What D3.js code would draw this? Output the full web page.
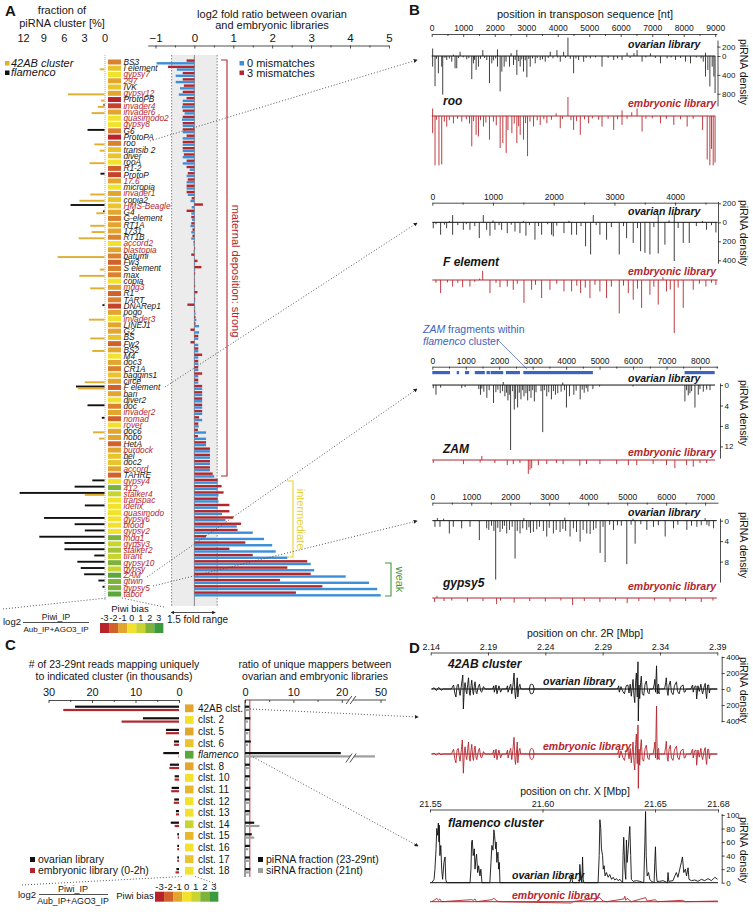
<!DOCTYPE html>
<html><head><meta charset="utf-8">
<script src="https://cdn.jsdelivr.net/npm/d3@7/dist/d3.min.js"></script>
<style>html,body{margin:0;padding:0;background:#fff;}svg{display:block;}</style>
</head><body>
<svg id="fig" width="753" height="912"></svg>
<script>
// ---------------- DATA ----------------
const teNames = ["BS3","I element","gypsy7","297","IVK","gypsy12","ProtoPB","invader4","invader6","quasimodo2","gypsy8","G6","ProtoPA","roo","transib 2","diver","rooA","R1-2","ProtoP","17.6","micropia","invader1","copia2","HMS-Beagle","G4","G-element","RT1A","1731","RT1B","accord2","blastopia","batumi","Fw3","S element","max","copia","mdg3","R1","TART","DNARep1","pogo","invader3","LINEJ1","G2","BS","Fw2","BS2","M4","doc3","CR1A","baggins1","circe","F element","bari","diver2","doc","invader2","nomad","rover","doc6","hobo","HetA","burdock","bel","doc2","accord","TAHRE","gypsy4","412","stalker4","transpac","idefix","quasimodo","gypsy6","blood","gypsy2","mdg1","gypsy3","stalker2","tirant","gypsy10","gypsy","ZAM","gtwin","gypsy5","tabor"];
const teRedLabel = [0,0,1,1,0,1,0,1,1,1, 1,0,0,0,0,0,0,0,0,1, 0,1,0,1,0,0,0,0,0,1, 1,0,0,0,0,0,1,0,0,0, 0,1,0,0,0,0,0,0,0,0, 0,0,0,0,0,0,1,1,1,0, 0,0,1,0,0,1,0,1,1,1, 1,1,1,1,1,1,1,1,1,1, 1,1,1,1,1,1];
const tePiwiBias = [-1.5,-0.5,0,-1,-0.5,-1,-3,-2.5,-1,0, 0,-1.5,-3,-1.5,-0.5,-0.5,0,-2,-2.5,-1, 0,-1,-0.5,-0.5,-1,-1.5,-1,-1,-1.5,0, -1,-1.5,-2,-1.5,-1.5,0,-1,-2,-1.5,-2.5, -1,0,-1,-1,-0.5,-2,-1,0,-1,-1.5, -0.5,-1,-2,-1,0,-1.5,-1,-2,0,-1, -1,-2,-1,-0.5,-0.5,-1,-2,0,2,1, 0,0,0,0,0,0,2,1,1.5,1, 2,1,2.5,2,2,2.5];
const frac42AB = [0,0.7,0,0,0,5.4,0.5,1.0,1.9,0, 0,0,0,1.5,0.7,0,2.2,0,0,0, 0,2.1,3.7,0,1.2,0,2.1,1.9,3.8,0, 0,6.9,0,0.7,3.7,0,2.1,0,0,0, 0,2.3,0,0,2.1,0,1.8,0,0,0, 0,2.9,3.9,0,0,0,0,0,0,1.7, 0.8,0,0,0,0,0,0,0,0,2.9, 0,0,0,0,0,0,0,0,0,0, 0,0,0,0,0,0];
const fracFlam = [0,0,0,0,0,0,0,0.15,0,0, 0,2.5,0,0,0,0,0,0,0.6,0, 0,0,0,5.0,0.2,0,0,0,0,0, 0,0,0,0,0,0,0,0,0,0.3, 0,0,0,0,0,0,0,0,0,0, 0,0,4.2,0,0,2.5,0,0.4,0,0, 0,0,0,0,0,0,0,1.8,4.4,12.5, 0,2.9,0,8.9,4.4,2.9,9.6,5.9,5.9,1.5, 4.0,3.5,3.0,0.9,0.3,0];
const log2Mm3 = [-0.2,-0.68,-0.3,-0.3,-0.27,-0.3,-0.2,-0.3,-0.3,-0.3, -0.3,-0.3,-0.2,-0.3,-0.3,-0.27,-0.2,-0.2,-0.17,-0.17, -0.2,-0.2,-0.07,0.22,-0.2,-0.08,-0.08,-0.05,-0.05,-0.02, 0.02,-0.08,0.08,0.18,0.02,0.01,0.02,0.08,0.02,-0.18, 0.02,0.03,0.03,-0.1,0.1,-0.1,0.1,0.2,0.1,0.1, 0.2,0.1,0.2,0.2,0.2,0.2,0.2,0.12,0.1,0.09, 0.09,0.3,0.4,0.4,0.4,0.4,0.47,0.6,0.7,0.75, 0.6,0.9,0.9,1.0,1.2,1.11,0.3,1.31,0.9,1.5, 2.9,2.39,2.99,2.2,3.29,2.61];
const log2Mm0 = [-0.97,-0.45,-0.48,-0.48,-0.37,-0.4,-0.3,-0.32,-0.25,-0.32, -0.3,-0.3,-0.3,-0.3,-0.3,-0.3,-0.3,-0.12,-0.2,-0.2, -0.2,-0.17,-0.1,-0.07,-0.08,-0.06,-0.1,-0.08,-0.08,-0.02, -0.02,0.01,0.02,0.02,0.01,0.02,0.01,0.02,0.02,0.02, 0.03,0.05,0.12,0.12,0.1,0.1,0.1,0.1,0.1,0.1, 0.1,0.1,0.2,0.2,0.2,0.2,0.2,0.2,0.11,0.3, 0.3,0.3,0.4,0.4,0.4,0.4,0.51,0.6,0.6,0.62, 0.62,0.6,0.71,0.8,1.09,1.5,1.79,2.0,2.09,2.39, 2.99,3.08,3.89,4.49,4.7,4.79];
const fracTicks = [0,3,6,9,12];
const log2Ticks = [-1,0,1,2,3,4,5];
const piwiLegend = [-3,-2,-1,0,1,2,3];

// panel B: piRNA densities [position nt, density]; + sense (up), - antisense (down)
const rooOvarian = [[30,-225],[30,160],[106,-640],[150,-60],[212,-365],[318,-225],[350,-820],[420,-40],[477,-85],[560,-50],[636,-120],[690,30],[742,-260],[795,-260],[850,-40],[901,90],[1000,-30],[1113,-70],[1180,-45],[1272,-490],[1325,-155],[1360,-80],[1410,-295],[1484,-225],[1550,-60],[1622,125],[1680,-40],[1749,-85],[1834,-575],[1908,-155],[1960,-90],[2030,-50],[2088,140],[2088,-225],[2173,-750],[2226,-330],[2300,-225],[2360,-120],[2470,-225],[2520,60],[2597,-190],[2650,-80],[2703,130],[2703,-400],[2760,-110],[2809,-225],[2860,-70],[2915,-330],[2970,-90],[3021,-450],[3080,-60],[3127,-225],[3200,-50],[3286,-155],[3350,-40],[3445,-85],[3520,-70],[3604,-120],[3700,-40],[3763,90],[3850,-50],[3975,125],[4000,-30],[4081,-120],[4187,90],[4250,-40],[4325,390],[4400,-60],[4505,-365],[4580,-50],[4664,-85],[4823,-120],[4900,-40],[5035,-50],[5200,-30],[5406,-225],[5600,-40],[5777,-85],[5900,-50],[6042,-85],[6201,70],[6300,-40],[6420,60],[6519,125],[6678,-120],[6800,-30],[6943,55],[7100,-40],[7261,-155],[7473,-50],[7600,-30],[7738,-85],[7900,-40],[8056,-120],[8215,-155],[8400,-30],[8550,-50],[8620,-120],[8692,70],[8692,-435],[8766,-295],[8830,-645],[8904,-225],[8957,-435],[8995,-785]];
const rooEmbryonic = [[30,-365],[30,160],[106,-1050],[150,-80],[230,-1050],[318,-1030],[400,-120],[477,-225],[560,-90],[690,-155],[820,-60],[954,-120],[1100,-70],[1200,-160],[1272,-645],[1330,-110],[1410,-400],[1484,-435],[1550,-90],[1643,-225],[1720,-140],[1834,-505],[1960,-120],[2050,-200],[2173,-680],[2258,-575],[2364,-785],[2420,-300],[2545,-365],[2620,-160],[2703,-575],[2760,-220],[2809,-400],[2915,-505],[2980,-150],[3042,-855],[3120,-120],[3233,-225],[3350,-90],[3445,-190],[3560,-70],[3657,-155],[3800,-80],[3950,60],[4081,-260],[4150,-60],[4325,405],[4420,-90],[4505,-295],[4600,-110],[4717,-400],[4850,-70],[4982,-155],[5100,-50],[5300,-80],[5406,-225],[5600,-60],[5777,-295],[5900,-70],[6042,120],[6042,-190],[6200,-60],[6350,80],[6519,160],[6678,-330],[6800,-60],[7000,-50],[7261,-155],[7450,-60],[7685,-190],[7900,-70],[8109,-225],[8300,-60],[8600,-300],[8745,-925],[8830,-1050],[8880,-700],[8936,-1050],[8995,-990]];
const fOvarian = [[16,-62],[60,-20],[137,-131],[200,-25],[236,-62],[280,15],[335,-131],[335,76],[420,-30],[511,-79],[560,-20],[620,-79],[700,-40],[774,-166],[840,76],[895,-79],[950,-141],[1000,20],[1032,-79],[1100,-30],[1142,-79],[1235,-114],[1300,-25],[1362,-97],[1444,-114],[1500,15],[1543,-141],[1600,-30],[1691,-183],[1750,-40],[1801,-131],[1900,-20],[1965,-131],[1993,-148],[2050,-35],[2169,-114],[2250,15],[2295,-131],[2377,-131],[2450,-40],[2525,-252],[2608,-338],[2652,76],[2700,-30],[2761,-131],[2871,-183],[2950,-50],[3080,-338],[3150,-40],[3201,-166],[3310,-217],[3380,-60],[3431,-304],[3503,-321],[3585,-338],[3650,-50],[3722,-328],[3722,76],[3832,-235],[3900,20],[3986,-407],[3986,93],[4050,-60],[4134,-217],[4233,-217],[4350,-40],[4450,15],[4518,-79],[4600,-30],[4672,-107]];
const fEmbryonic = [[60,-30],[137,-138],[250,-25],[335,-69],[420,-30],[500,-76],[620,-69],[700,-20],[780,15],[830,97],[950,-138],[1050,-30],[1115,-76],[1235,-69],[1334,-103],[1400,-40],[1510,-241],[1636,-103],[1700,-50],[1801,-190],[1938,-103],[2050,-40],[2169,-121],[2295,-121],[2380,-60],[2443,-138],[2520,-80],[2597,-190],[2680,-50],[2761,-121],[2871,-190],[2950,-70],[3080,-352],[3150,-60],[3229,-138],[3310,-207],[3380,-90],[3448,-293],[3585,-155],[3650,-70],[3722,-259],[3800,30],[3859,-121],[3920,-100],[3986,-559],[4050,-80],[4134,-293],[4299,-103],[4400,-40],[4507,-69],[4600,-30],[4672,-52]];
const zamFragments = [[0,530],[730,800],[975,1100],[1270,1570],[1620,1720],[1740,2120],[2200,2620],[2720,4800],[7540,8440]];
const zamOvarian = [[30,-0.6],[110,-1.9],[250,-0.5],[880,-0.6],[980,-0.4],[1390,-0.8],[1440,-1.9],[1480,-0.7],[1540,-1.3],[1630,-2.5],[1700,-1.0],[1830,-3.5],[1900,-1.4],[1960,-0.9],[2030,-1.6],[2100,-1.2],[2120,0.6],[2170,-2.2],[2220,-1.5],[2260,-3.0],[2300,-1.9],[2340,-12.7],[2400,-1.2],[2450,-4.8],[2490,-2.7],[2550,-4.4],[2600,-1.5],[2650,-2.8],[2700,-1.0],[2740,-2.2],[2800,-1.6],[2850,-3.0],[2900,-1.2],[2950,-2.5],[3000,-1.0],[3050,-3.2],[3100,-1.4],[3250,-1.2],[3300,-9.2],[3350,-1.0],[3420,-2.2],[3480,-1.4],[3560,-2.8],[3620,-1.2],[3680,-1.9],[3750,-1.6],[3850,-1.3],[3900,0.5],[3950,-1.0],[4010,-4.4],[4100,-2.2],[4230,-1.9],[4300,-1.1],[4420,-2.8],[4480,-0.9],[4540,-1.5],[4600,-0.6],[4650,-1.3],[4800,-0.8],[5000,-0.3],[6000,-0.3],[7550,-3.2],[7600,-1.0],[7650,-2.0],[7700,-1.6],[7750,-1.2],[7850,-4.4],[7950,-1.9],[8000,-0.8],[8100,-1.3],[8200,-0.9],[8300,-1.0]];
const zamEmbryonic = [[30,-0.6],[930,-0.8],[1430,-0.5],[1480,0.8],[1870,-0.6],[2240,-1.0],[2420,-0.8],[2620,-0.6],[2870,-2.7],[2920,-1.9],[2970,-1.6],[3170,-1.0],[3420,-0.8],[3710,-0.6],[3910,-0.8],[4410,-1.1],[4610,-0.8],[5010,-0.8],[5510,-0.8],[5860,-1.0],[6110,-1.0],[6600,-0.8],[7000,-1.0],[7250,-1.6],[7600,-1.0],[7800,-1.3],[8000,-0.6],[8200,-0.6]];
const gypsy5Ovarian = [[68,-1.2],[130,0.5],[197,-1.2],[290,0.4],[437,-2.5],[539,-1.2],[753,-1.5],[967,-1.2],[1207,-3.8],[1395,-1.5],[1450,-1.8],[1520,-1.0],[1580,-2.0],[1626,-11.5],[1680,-1.4],[1738,-2.2],[1800,-1.6],[1850,-1.0],[1909,-2.5],[1980,-1.8],[2050,-1.2],[2123,-7.4],[2180,-2.0],[2251,-2.5],[2320,-1.5],[2350,0.5],[2422,-1.8],[2480,-1.3],[2520,-2.4],[2594,-2.2],[2680,-1.7],[2750,-1.2],[2850,-2.0],[2936,-3.1],[3000,-1.4],[3107,-2.5],[3180,-1.8],[3278,-2.2],[3350,-1.6],[3400,0.6],[3420,-2.0],[3535,-3.1],[3620,-1.5],[3700,-2.2],[3792,-4.1],[3870,-1.8],[3963,-2.5],[4050,-2.6],[4134,-1.8],[4200,-1.5],[4306,-6.3],[4380,-1.2],[4434,-8.1],[4550,-0.8],[4648,-1.8],[4750,-0.9],[4850,-1.0],[4990,-8.5],[5100,-0.8],[5150,0.4],[5204,-4.5],[5350,-0.7],[5504,-1.8],[5675,-1.2],[5800,-0.9],[5975,-3.1],[6189,-1.5],[6300,-0.8],[6531,-1.8],[6650,-1.0],[6788,-1.2],[6900,-0.9],[7000,0.5],[7045,-0.8],[7100,-1.1],[7216,-1.5]];
const gypsy5Embryonic = [[60,-0.8],[120,0.4],[300,-0.6],[500,-0.5],[900,-0.7],[1300,-0.6],[1650,-1.2],[1750,-0.5],[2100,-0.9],[2500,-0.6],[2900,-0.7],[3300,-0.5],[3600,-1.4],[3900,-0.6],[4300,-0.8],[4700,-0.5],[5000,-1.0],[5300,-0.6],[5700,-0.5],[6100,-0.7],[6500,-0.6],[6900,-0.8],[7200,-0.5]];

// panel C
const clusterNames = ["42AB clst.","clst. 2","clst. 5","clst. 6","flamenco","clst. 8","clst. 10","clst. 11","clst. 12","clst. 13","clst. 14","clst. 15","clst. 16","clst. 17","clst. 18"];
const clusterBias = [-1,0,-1,-0.5,2.5,-1,0,-0.7,0,0,1,-0.7,0,-0.5,0];
const readsOvarian = [23.9,8.3,3.0,1.15,3.6,2.1,1.0,1.7,1.1,0.7,1.9,0.4,0.4,0.4,0.6];
const readsEmbryonic = [26.6,13.2,3.0,1.15,0.1,2.2,1.0,1.8,1.2,0.7,1.0,0.3,0.4,0.4,0.8];
const ratioPiRNA = [0.9,1.1,1.0,1.2,19.8,1.0,1.0,1.1,1.0,1.0,1.9,1.4,1.0,1.0,1.1];
const ratioSiRNA = [0.8,0.6,0.7,0.6,49,0.8,0.6,0.9,0.8,0.8,3.0,1.9,0.7,0.8,0.8];
const readTicks = [0,10,20,30];
const ratioTicks = [0,10,20,50];

// panel D: [position kb, density]
const ab42Ticks = [2140,2190,2240,2290,2340,2390];
const flamTicks = [21550,21600,21650,21678];
const ab42Ovarian = [[2141,0],[2143,15],[2145,-20],[2147,20],[2149,-15],[2151,0],[2158,0],[2160,50],[2161,-50],[2162,-100],[2163,40],[2164,60],[2165,-30],[2165.6,-80],[2166.8,50],[2168,175],[2168.5,-250],[2169.4,30],[2170,80],[2171,-40],[2171.5,-60],[2172.3,60],[2173,140],[2173.8,-50],[2174.4,-80],[2175.2,40],[2175.8,110],[2176.7,-30],[2177.3,-70],[2178.1,50],[2178.7,90],[2179.6,-40],[2180.2,-60],[2181.6,30],[2182.5,60],[2183.7,-30],[2184.5,-40],[2186,30],[2187.4,0],[2194,0],[2195,40],[2195.5,-40],[2197,50],[2197.8,-60],[2199.5,40],[2201,-40],[2202,0],[2206,0],[2207,40],[2207.5,-40],[2209,30],[2209.8,60],[2210.7,-60],[2211.8,50],[2212.7,200],[2213.5,-60],[2214,-120],[2215,50],[2215.5,140],[2216,-100],[2217,30],[2217.8,60],[2218.5,0],[2226,0],[2227,55],[2228.2,60],[2229.4,50],[2230.2,0],[2229.4,-50],[2228.2,-60],[2227,-55],[2226,0],[2231,0],[2241,0],[2241.3,8],[2241.6,0],[2252.5,0],[2252.8,-8],[2253.1,0],[2272.5,0],[2272.8,6],[2273.1,0],[2303,0],[2304,40],[2304.5,-40],[2306,30],[2307.5,-30],[2309,-60],[2310.5,40],[2312,50],[2313,-50],[2314,60],[2315,-90],[2316.5,120],[2317.3,-80],[2318,-170],[2318.8,100],[2319.4,200],[2320.2,-100],[2320.8,340],[2321.1,-400],[2321.7,50],[2322.3,-120],[2323.1,80],[2323.7,160],[2324.6,-60],[2325.8,-80],[2327,60],[2328.1,100],[2329.3,-40],[2330.5,-60],[2331,0],[2334,0],[2335,60],[2335.5,120],[2336.1,-40],[2337,290],[2337.6,-60],[2338.2,50],[2338.8,60],[2339.4,-60],[2338.8,-50],[2337.9,0],[2340.5,0],[2344,0],[2345,80],[2345.5,140],[2346.4,-40],[2347,-80],[2347.9,50],[2349,100],[2350,-40],[2351.4,-70],[2352.6,40],[2354.4,90],[2355.3,-30],[2356.7,-60],[2358.2,30],[2360.2,50],[2361.1,-40],[2361.7,-40],[2363,0],[2367,0],[2368,40],[2368.5,50],[2369,-40],[2370.2,30],[2371.4,40],[2372,-125],[2373.1,40],[2374.3,-30],[2375.7,60],[2376.6,-30],[2377.2,-60],[2378.7,40],[2379.5,70],[2380.1,-50],[2380.7,-120],[2381.6,50],[2382.5,50],[2383.1,-50],[2383.7,0],[2390,0]];
const ab42Embryonic = [[2141,0],[2143,10],[2145,-15],[2147,15],[2149,-10],[2151,0],[2158,0],[2160,60],[2161,-60],[2162,-110],[2163,50],[2164,70],[2165,-40],[2165.6,-90],[2166.8,60],[2167.6,175],[2168.5,-240],[2169.4,40],[2170,90],[2171,-50],[2171.5,-70],[2172.3,70],[2173,150],[2173.8,-60],[2174.4,-90],[2175.2,50],[2175.8,120],[2176.7,-40],[2177.3,-80],[2178.1,60],[2178.7,100],[2179.6,-50],[2180.2,-70],[2181.6,40],[2182.5,70],[2183.7,-40],[2184.5,-50],[2186,30],[2187.4,0],[2194,0],[2195,50],[2195.5,-50],[2197,60],[2197.8,-70],[2199.5,50],[2201,-50],[2202,0],[2206,0],[2207,50],[2207.5,-50],[2209,40],[2209.8,70],[2210.7,-70],[2211.8,60],[2212.7,208],[2213.5,-70],[2214,-130],[2215,60],[2215.5,150],[2216,-110],[2217,40],[2217.8,70],[2218.5,0],[2226,0],[2227,60],[2228.2,70],[2229.4,55],[2230.2,0],[2229.4,-55],[2228.2,-70],[2227,-60],[2226,0],[2231,0],[2303,0],[2304,50],[2304.5,-50],[2306,40],[2307.5,-40],[2309,-80],[2310.5,50],[2312,60],[2313,-60],[2314,70],[2315,-110],[2316.5,150],[2317.3,-100],[2318,-200],[2318.8,120],[2319.4,250],[2320.2,-120],[2320.8,363],[2321.1,-430],[2321.7,60],[2322.3,-140],[2323.1,90],[2323.7,180],[2324.6,-70],[2325.8,-90],[2327,70],[2328.1,110],[2329.3,-50],[2330.5,-70],[2331,0],[2334,0],[2335,80],[2335.5,150],[2336.1,-50],[2337,600],[2337.6,-70],[2338.2,60],[2338.8,70],[2339.4,-70],[2338.8,-60],[2337.9,0],[2340.5,0],[2344,0],[2345,90],[2345.5,160],[2346.4,-50],[2347,-90],[2347.9,60],[2349,110],[2350,-50],[2351.4,-80],[2352.6,50],[2354.4,100],[2355.3,-40],[2356.7,-70],[2358.2,40],[2360.2,60],[2361.1,-50],[2361.7,-50],[2363,0],[2367,0],[2368,50],[2368.5,60],[2369,-50],[2370.2,40],[2371.4,50],[2372,-140],[2373.1,50],[2374.3,-40],[2375.7,70],[2376.6,-40],[2377.2,-70],[2378.7,50],[2379.5,80],[2380.1,-60],[2380.7,-130],[2381.6,60],[2382.5,60],[2383.1,-60],[2383.7,0],[2390,0]];
const flamOvarian = [[21550.8,0],[21551.8,5],[21552.2,20],[21552.7,50],[21553.0,80],[21553.4,70],[21553.7,88],[21554.0,60],[21554.1,85],[21554.4,40],[21554.8,55],[21555.2,20],[21555.6,5],[21556.2,30],[21556.7,38],[21557.0,5],[21557.4,0],[21567.8,0],[21568.2,20],[21568.5,60],[21568.8,63],[21569.2,40],[21569.7,50],[21570.0,20],[21570.4,35],[21570.7,42],[21571.2,15],[21571.6,25],[21572.2,10],[21572.6,20],[21573.1,0],[21576.6,0],[21577.1,30],[21577.5,55],[21578.0,48],[21578.4,78],[21578.7,70],[21579.2,50],[21579.4,60],[21579.7,30],[21580.2,45],[21580.5,20],[21580.8,30],[21581.1,0],[21612.2,0],[21612.9,10],[21613.4,0],[21616.3,0],[21616.6,27],[21617.0,10],[21617.5,0],[21617.8,38],[21618.1,5],[21618.4,0],[21624.7,0],[21625.2,40],[21625.5,93],[21625.9,80],[21626.2,50],[21626.7,40],[21627.0,20],[21627.4,25],[21627.8,10],[21628.4,15],[21629.2,8],[21629.9,12],[21630.7,5],[21631.4,8],[21632.1,4],[21632.9,6],[21633.6,3],[21634.4,5],[21635.1,2],[21635.6,0],[21635.8,40],[21636.1,67],[21636.6,20],[21637.0,5],[21637.3,63],[21637.6,30],[21638.1,50],[21638.5,70],[21638.8,83],[21639.2,40],[21639.5,5],[21640.3,2],[21641.8,3],[21643.2,2],[21645.0,0],[21645.5,60],[21645.8,105],[21646.1,40],[21646.5,10],[21647.1,15],[21647.7,5],[21648.4,2],[21649.6,0],[21649.9,30],[21650.2,53],[21650.5,20],[21650.9,2],[21652.1,2],[21653.6,3],[21655.5,0],[21655.8,15],[21656.1,2],[21658.0,3],[21658.8,10],[21659.5,15],[21660.2,8],[21661.0,20],[21661.7,30],[21662.2,38],[21662.8,15],[21663.5,20],[21664.0,10],[21664.7,22],[21665.1,5],[21666.2,3],[21667.7,4],[21669.1,2],[21670.6,5],[21672.1,3],[21673.6,6],[21675.1,3],[21676.6,8],[21677.8,5]];
const flamEmbryonic = [[21550.8,0],[21552.2,3],[21553.0,5],[21553.7,2],[21554.4,4],[21555.2,0],[21568.5,3],[21569.2,2],[21570.0,4],[21570.7,0],[21577.5,3],[21578.4,5],[21579.4,2],[21580.5,0],[21612.9,-2],[21613.4,0],[21625.5,6],[21626.2,3],[21627.0,1],[21628.4,0],[21636.1,4],[21636.6,8],[21637.0,2],[21637.6,5],[21638.8,2],[21639.5,0],[21645.8,6],[21646.5,1],[21650.2,3],[21650.9,0],[21662.2,2],[21663.5,0],[21677.8,1]];

// ---------------- DRAW ----------------
const F = '"Liberation Sans", Arial, Helvetica, sans-serif';
const RED = "#b3262c", BLUE = "#3b8fd8", GOLD = "#e0ae33", INK = "#151515";
const piwiColors = ["#b8222b","#d1612a","#e2a52e","#f2e22d","#c8d531","#7db33a","#3a9a3d"];
const biasColor = d3.scaleLinear().domain(piwiLegend).range(piwiColors).clamp(true);
const svg = d3.select("#fig");
svg.append("rect").attr("width",753).attr("height",912).attr("fill","#fff");
const defs = svg.append("defs");
defs.append("marker").attr("id","arr").attr("viewBox","0 0 6 6").attr("refX",5).attr("refY",3)
  .attr("markerWidth",4.5).attr("markerHeight",4.5).attr("orient","auto")
  .append("path").attr("d","M0,0L6,3L0,6Z").attr("fill","#222");
defs.append("marker").attr("id","arrS").attr("viewBox","0 0 6 6").attr("refX",1).attr("refY",3)
  .attr("markerWidth",4.5).attr("markerHeight",4.5).attr("orient","auto-start-reverse")
  .append("path").attr("d","M0,0L6,3L0,6Z").attr("fill","#222");

function T(g,x,y,s,o={}){
  const t=g.append("text").attr("x",x).attr("y",y).text(s).attr("font-family",F)
    .attr("font-size",o.size||10).attr("fill",o.fill||INK);
  if(o.anchor) t.attr("text-anchor",o.anchor);
  if(o.weight) t.attr("font-weight",o.weight);
  if(o.style) t.attr("font-style",o.style);
  if(o.rotate!=null) t.attr("transform",`rotate(${o.rotate},${x},${y})`);
  return t;
}
function styleAxis(g,size){
  g.selectAll("path.domain").attr("stroke","#222").attr("stroke-width",0.8);
  g.selectAll(".tick line").attr("stroke","#222").attr("stroke-width",0.8);
  g.selectAll(".tick text").attr("font-family",F).attr("font-size",size).attr("fill",INK);
}
function topAxis(g,scale,y,ticks,fmt,size,minor,labelUp){
  const a=g.append("g").attr("transform",`translate(0,${y})`)
    .call(d3.axisBottom(scale).tickValues(ticks).tickFormat(fmt).tickSize(3).tickSizeOuter(0));
  a.selectAll(".tick text").attr("y",-(labelUp||3)).attr("dy","0");
  styleAxis(a,size);
  if(minor){
    const m=g.append("g").attr("transform",`translate(0,${y})`)
      .call(d3.axisBottom(scale).tickValues(minor).tickFormat("").tickSize(2).tickSizeOuter(0));
    m.select("path.domain").remove(); styleAxis(m,size);
  }
  return a;
}
function dotted(g,x1,y1,x2,y2,arrow){
  const l=g.append("line").attr("x1",x1).attr("y1",y1).attr("x2",x2).attr("y2",y2)
    .attr("stroke","#444").attr("stroke-width",0.9).attr("stroke-dasharray","1,2");
  if(arrow) l.attr("marker-end","url(#arr)");
}
function spikes(g,data,x,y,color){
  g.append("g").selectAll("line").data(data).join("line")
    .attr("x1",d=>x(d[0])).attr("x2",d=>x(d[0])).attr("y1",y(0)).attr("y2",d=>y(d[1]))
    .attr("stroke",color).attr("stroke-width",0.9);
}
function baseline(g,x,y,x0,x1,color){
  g.append("line").attr("x1",x(x0)).attr("x2",x(x1)).attr("y1",y(0)).attr("y2",y(0))
    .attr("stroke",color).attr("stroke-width",1);
}
function densityAxis(g,yScale,x,ticks){
  const a=g.append("g").attr("transform",`translate(${x},0)`)
    .call(d3.axisRight(yScale).tickValues(ticks).tickFormat(d=>Math.abs(d)).tickSize(3).tickPadding(1.5).tickSizeOuter(0));
  styleAxis(a,8);
}
function piwiKey(g,x0,y0,w,h,numY,size){
  g.append("g").selectAll("rect").data(piwiLegend).join("rect")
    .attr("x",(d,i)=>x0+i*w).attr("y",y0).attr("width",w).attr("height",h).attr("fill",d=>biasColor(d));
  g.append("g").selectAll("text").data(piwiLegend).join("text")
    .attr("x",(d,i)=>x0+i*w+w/2).attr("y",numY).attr("text-anchor","middle")
    .attr("font-family",F).attr("font-size",size).attr("fill",INK).text(d=>d);
}

// ===== Panel A =====
const gA = svg.append("g");
T(gA,5,16,"A",{size:15,weight:"bold"});
T(gA,62,14,"fraction of",{size:11,anchor:"middle"});
T(gA,62,27,"piRNA cluster [%]",{size:11,anchor:"middle"});
const xFrac = d3.scaleLinear().domain([0,12]).range([104.5,23]);
const axF = gA.append("g").attr("transform","translate(0,42)")
  .call(d3.axisBottom(xFrac).tickValues(fracTicks).tickSize(0).tickFormat(d3.format("d")));
axF.select("path.domain").remove();
axF.selectAll(".tick text").attr("y",0).attr("dy","0");
styleAxis(axF,11);

const yRow = d3.scalePoint().domain(teNames).range([62,594]);
const rows = teNames.map((n,i)=>({n,i,y:yRow(n)}));
gA.append("line").attr("x1",105).attr("x2",105).attr("y1",55).attr("y2",600)
  .attr("stroke","#8b9bb3").attr("stroke-width",0.8).attr("stroke-dasharray","1,1");
gA.append("g").selectAll("rect").data(rows.filter(r=>fracFlam[r.i]>0)).join("rect")
  .attr("x",r=>xFrac(fracFlam[r.i])).attr("y",r=>r.y-1.9).attr("height",1.9)
  .attr("width",r=>xFrac(0)-xFrac(fracFlam[r.i])).attr("fill","#111");
gA.append("g").selectAll("rect").data(rows.filter(r=>frac42AB[r.i]>0)).join("rect")
  .attr("x",r=>xFrac(frac42AB[r.i])).attr("y",r=>r.y+0.1).attr("height",1.9)
  .attr("width",r=>xFrac(0)-xFrac(frac42AB[r.i])).attr("fill",GOLD);
gA.append("g").selectAll("rect").data(rows).join("rect")
  .attr("x",108).attr("y",r=>r.y-2.5).attr("width",13).attr("height",5)
  .attr("fill",r=>biasColor(tePiwiBias[r.i]));
gA.append("g").selectAll("text").data(rows).join("text")
  .attr("x",123.5).attr("y",r=>r.y+2.9).attr("font-family",F).attr("font-size",8.3)
  .attr("font-style","italic").attr("fill",r=>teRedLabel[r.i]?RED:INK).text(r=>r.n);
// legend
gA.append("rect").attr("x",5).attr("y",61).attr("width",4.5).attr("height",4.5).attr("fill",GOLD);
T(gA,11,66.5,"42AB cluster",{size:11,style:"italic"});
gA.append("rect").attr("x",5).attr("y",70.5).attr("width",4.5).attr("height",4.5).attr("fill","#111");
T(gA,11,76,"flamenco",{size:11,style:"italic"});

// log2 ratio
const xLog = d3.scaleLinear().domain([-1.2,5]).range([147.7,388.9]);
T(gA,272,17.5,"log2 fold ratio between ovarian",{size:11,anchor:"middle"});
T(gA,272,29,"and embryonic libraries",{size:11,anchor:"middle"});
gA.append("rect").attr("x",xLog(-0.585)).attr("y",55).attr("width",xLog(0.585)-xLog(-0.585))
  .attr("height",551).attr("fill","#ececec");
[-0.585,0.585].forEach(v=>gA.append("line").attr("x1",xLog(v)).attr("x2",xLog(v)).attr("y1",55).attr("y2",606)
  .attr("stroke","#666").attr("stroke-width",0.8).attr("stroke-dasharray","1.5,1.5"));
gA.append("line").attr("x1",xLog(0)).attr("x2",xLog(0)).attr("y1",55).attr("y2",606)
  .attr("stroke","#888").attr("stroke-width",1);
topAxis(gA,xLog,45.5,log2Ticks,d3.format("d"),11.5,[-0.5,0.5,1.5,2.5,3.5,4.5],3.5);
gA.append("g").selectAll("rect").data(rows).join("rect")
  .attr("x",r=>xLog(Math.min(0,log2Mm3[r.i]))).attr("y",r=>r.y-2.6).attr("height",2.4)
  .attr("width",r=>Math.abs(xLog(log2Mm3[r.i])-xLog(0))).attr("fill",RED);
gA.append("g").selectAll("rect").data(rows).join("rect")
  .attr("x",r=>xLog(Math.min(0,log2Mm0[r.i]))).attr("y",r=>r.y+0.1).attr("height",2.4)
  .attr("width",r=>Math.abs(xLog(log2Mm0[r.i])-xLog(0))).attr("fill",BLUE);
// legend
gA.append("rect").attr("x",239.5).attr("y",61).attr("width",4.5).attr("height",4.5).attr("fill",BLUE);
T(gA,247,66.5,"0 mismatches",{size:11});
gA.append("rect").attr("x",239.5).attr("y",70.5).attr("width",4.5).attr("height",4.5).attr("fill",RED);
T(gA,247,76.5,"3 mismatches",{size:11});
// brackets
function bracket(g,x,y1,y2,color){
  g.append("path").attr("d",`M${x-6},${y1}H${x}V${y2}H${x-6}`).attr("fill","none")
    .attr("stroke",color).attr("stroke-width",1.1);
}
bracket(gA,227,60,476,RED);
T(gA,232,271,"maternal deposition: strong",{size:11,anchor:"middle",rotate:90,fill:RED});
bracket(gA,293,481,557,"#e6d236");
T(gA,296.5,519,"intermediate",{size:11,anchor:"middle",rotate:90,fill:"#e6d236"});
bracket(gA,391,563,596,"#3e9a3e");
T(gA,395.5,579.5,"weak",{size:11,anchor:"middle",rotate:90,fill:"#3e9a3e"});
// fold range
gA.append("line").attr("x1",xLog(-0.585)+2).attr("x2",xLog(0.585)-2).attr("y1",612.5).attr("y2",612.5)
  .attr("stroke","#222").attr("stroke-width",0.8).attr("marker-end","url(#arr)").attr("marker-start","url(#arrS)");
T(gA,197.5,623,"1.5 fold range",{size:10,anchor:"middle"});
// piwi legend A
dotted(gA,3,609,107,598,false);
dotted(gA,164,607,122,598,false);
T(gA,3,625,"log2",{size:9.5});
T(gA,56,619.5,"Piwi_IP",{size:8.5,anchor:"middle"});
gA.append("line").attr("x1",23).attr("x2",89).attr("y1",622.5).attr("y2",622.5).attr("stroke","#222").attr("stroke-width",0.8);
T(gA,56,631.5,"Aub_IP+AGO3_IP",{size:8,anchor:"middle"});
T(gA,130,611.5,"Piwi bias",{size:9.5,anchor:"middle"});
piwiKey(gA,100,623,9.05,10,620.5,9);

// connectors A -> B
dotted(gA,150,141,417,60,true);
dotted(gA,165,387,417,223,true);
dotted(gA,147,577,417,389,true);
dotted(gA,153,586,417,521,true);

// ===== Panel B =====
const gB = svg.append("g");
T(gB,409,15,"B",{size:15,weight:"bold"});
T(gB,585,17.5,"position in transposon sequence [nt]",{size:11,anchor:"middle"});
function trackLabels(g,name,nameY,ovY,emY){
  T(g,628,ovY,"ovarian library",{size:10.5,weight:"bold",style:"italic"});
  T(g,443,nameY,name,{size:12,weight:"bold",style:"italic"});
  T(g,628,emY,"embryonic library",{size:10.5,weight:"bold",style:"italic",fill:RED});
}
// roo
const xRoo = d3.scaleLinear().domain([0,9050]).range([431.7,716.8]);
topAxis(gB,xRoo,34,d3.range(0,9001,1000),d3.format("d"),8.5,d3.range(500,9000,1000),3);
const yRooO = d3.scaleLinear().domain([-1060,340]).range([106,40]);
const yRooE = d3.scaleLinear().domain([-1100,0]).range([167.7,116]);
spikes(gB,rooOvarian,xRoo,yRooO,"#2a2a2a");
baseline(gB,xRoo,yRooO,0,9000,"#111");
spikes(gB,rooEmbryonic,xRoo,yRooE,RED);
baseline(gB,xRoo,yRooE,0,9000,RED);
densityAxis(gB,yRooO,717.5,[200,0,-400,-800]);
T(gB,739.5,72,"piRNA density",{size:10.5,anchor:"middle",rotate:90});
trackLabels(gB,"roo",105,47.5,107);
// F element
const xF = d3.scaleLinear().domain([0,4700]).range([432.3,717.6]);
topAxis(gB,xF,202.7,d3.range(0,4001,1000),d3.format("d"),8.5,d3.range(500,4700,1000),3);
const yFO = d3.scaleLinear().domain([-430,220]).range([263.2,201.4]);
const yFE = d3.scaleLinear().domain([-600,0]).range([337,280]);
spikes(gB,fOvarian,xF,yFO,"#2a2a2a");
baseline(gB,xF,yFO,0,4700,"#111");
spikes(gB,fEmbryonic,xF,yFE,RED);
baseline(gB,xF,yFE,0,4700,RED);
densityAxis(gB,yFO,718,[200,0,-200,-400]);
T(gB,739.5,233,"piRNA density",{size:10.5,anchor:"middle",rotate:90});
trackLabels(gB,"F element",266,215,274.5);
// ZAM
const xZ = d3.scaleLinear().domain([0,8530]).range([432.3,717.7]);
const zt = T(gB,423,333,"",{size:10.5,fill:"#3d63c0"});
zt.append("tspan").attr("font-style","italic").text("ZAM");
zt.append("tspan").text(" fragments within");
const zt2 = T(gB,423,344.5,"",{size:10.5,fill:"#3d63c0"});
zt2.append("tspan").attr("font-style","italic").text("flamenco");
zt2.append("tspan").text(" cluster");
gB.append("line").attr("x1",497).attr("y1",339).attr("x2",527).attr("y2",369).attr("stroke","#3d63c0").attr("stroke-width",0.7);
topAxis(gB,xZ,366.7,d3.range(0,8001,1000),d3.format("d"),8.5,d3.range(500,8530,1000),3);
gB.append("g").selectAll("rect").data(zamFragments).join("rect")
  .attr("x",d=>xZ(d[0])).attr("width",d=>xZ(d[1])-xZ(d[0])).attr("y",371).attr("height",3.2).attr("fill","#3d63c0");
const yZO = d3.scaleLinear().domain([-14.3,0.4]).range([458.2,383]);
const yZE = d3.scaleLinear().domain([-3,0]).range([475.4,460]);
spikes(gB,zamOvarian,xZ,yZO,"#2a2a2a");
baseline(gB,xZ,yZO,0,8450,"#111");
spikes(gB,zamEmbryonic,xZ,yZE,RED);
baseline(gB,xZ,yZE,0,8450,RED);
densityAxis(gB,yZO,720,[0,-4,-8,-12]);
T(gB,739.5,413,"piRNA density",{size:10.5,anchor:"middle",rotate:90});
trackLabels(gB,"ZAM",453,381.5,456);
// gypsy5
const xG = d3.scaleLinear().domain([0,7330]).range([432.3,718]);
topAxis(gB,xG,502.7,d3.range(0,7001,1000),d3.format("d"),8.5,d3.range(500,7330,1000),3);
const yGO = d3.scaleLinear().domain([-12,0.5]).range([582.1,518.1]);
const yGE = d3.scaleLinear().domain([-2,0]).range([608.2,598]);
spikes(gB,gypsy5Ovarian,xG,yGO,"#2a2a2a");
baseline(gB,xG,yGO,0,7300,"#111");
spikes(gB,gypsy5Embryonic,xG,yGE,RED);
baseline(gB,xG,yGE,0,7300,RED);
densityAxis(gB,yGO,720,[0,-4,-8]);
T(gB,739.5,545,"piRNA density",{size:10.5,anchor:"middle",rotate:90});
trackLabels(gB,"gypsy5",587,516,590);

// ===== Panel C =====
const gC = svg.append("g");
T(gC,5,650,"C",{size:15,weight:"bold"});
T(gC,114,667.5,"# of 23-29nt reads mapping uniquely",{size:10.5,anchor:"middle"});
T(gC,114,679.5,"to indicated cluster (in thousands)",{size:10.5,anchor:"middle"});
T(gC,315,667.5,"ratio of unique mappers between",{size:10.5,anchor:"middle"});
T(gC,315,679.5,"ovarian and embryonic libraries",{size:10.5,anchor:"middle"});
const xReads = d3.scaleLinear().domain([0,30]).range([179,48.5]);
topAxis(gC,xReads,700,readTicks,d3.format("d"),11,[5,15,25],4);
const yC = d3.scalePoint().domain(clusterNames).range([708.3,870.7]);
const crows = clusterNames.map((n,i)=>({n,i,y:yC(n)}));
gC.append("g").selectAll("rect").data(crows).join("rect")
  .attr("x",r=>xReads(readsOvarian[r.i])).attr("y",r=>r.y-2.7).attr("height",2.2)
  .attr("width",r=>xReads(0)-xReads(readsOvarian[r.i])).attr("fill","#111");
gC.append("g").selectAll("rect").data(crows).join("rect")
  .attr("x",r=>xReads(readsEmbryonic[r.i])).attr("y",r=>r.y+0.6).attr("height",2.2)
  .attr("width",r=>xReads(0)-xReads(readsEmbryonic[r.i])).attr("fill",RED);
gC.append("g").selectAll("rect").data(crows).join("rect")
  .attr("x",185).attr("y",r=>r.y-3.9).attr("width",8.5).attr("height",7.8)
  .attr("fill",r=>biasColor(clusterBias[r.i]));
gC.append("g").selectAll("text").data(crows).join("text")
  .attr("x",198).attr("y",r=>r.y+3.5).attr("font-family",F).attr("font-size",10)
  .attr("font-style",r=>r.n==="flamenco"?"italic":"normal").attr("fill",INK).text(r=>r.n);
// ratio axis
const xRatio = d3.scaleLinear().domain([0,21.5,45,51]).range([245,349,353,386]);
const axR = topAxis(gC,xRatio,700,ratioTicks,d3.format("d"),11,[5,15],4);
axR.select("path.domain").remove();
[[245,349],[353,386]].forEach(s=>gC.append("line").attr("x1",s[0]).attr("x2",s[1]).attr("y1",700).attr("y2",700).attr("stroke","#222").attr("stroke-width",0.8));
gC.append("line").attr("x1",245).attr("x2",245).attr("y1",700).attr("y2",877).attr("stroke","#222").attr("stroke-width",0.9);
gC.append("line").attr("x1",xRatio(1)).attr("x2",xRatio(1)).attr("y1",700).attr("y2",877).attr("stroke",RED).attr("stroke-width",0.9);
gC.append("g").selectAll("rect").data(crows).join("rect")
  .attr("x",245).attr("y",r=>r.y-2.7).attr("height",2.2)
  .attr("width",r=>xRatio(ratioPiRNA[r.i])-245).attr("fill","#111");
gC.append("g").selectAll("rect").data(crows).join("rect")
  .attr("x",245).attr("y",r=>r.y+0.6).attr("height",2.2)
  .attr("width",r=>xRatio(ratioSiRNA[r.i])-245).attr("fill","#9e9e9e");
function breakMark(g,xc,yc,h){
  g.append("path").attr("d",`M${xc-2-h*0.35},${yc+h/2}L${xc-2+h*0.35},${yc-h/2}L${xc+2+h*0.35},${yc-h/2}L${xc+2-h*0.35},${yc+h/2}Z`).attr("fill","#fff");
  [-2,2].forEach(o=>g.append("line").attr("x1",xc+o-h*0.35).attr("y1",yc+h/2).attr("x2",xc+o+h*0.35).attr("y2",yc-h/2)
    .attr("stroke","#222").attr("stroke-width",0.8));
}
breakMark(gC,351,700,8);
breakMark(gC,351,758,9);
// legends C
gC.append("rect").attr("x",30).attr("y",857).attr("width",5).attr("height",5).attr("fill","#111");
T(gC,38,862.5,"ovarian library",{size:10.5});
gC.append("rect").attr("x",30).attr("y",868).attr("width",5).attr("height",5).attr("fill",RED);
T(gC,38,873.5,"embryonic library (0-2h)",{size:10.5});
gC.append("rect").attr("x",258).attr("y",857).attr("width",5).attr("height",5).attr("fill","#111");
T(gC,266,862.5,"piRNA fraction (23-29nt)",{size:10.5});
gC.append("rect").attr("x",258).attr("y",868).attr("width",5).attr("height",5).attr("fill","#9e9e9e");
T(gC,266,873.5,"siRNA fraction (21nt)",{size:10.5});
// piwi legend C
dotted(gC,22,885,183,876.5,false);
dotted(gC,195,876.5,217,884,false);
T(gC,18,898,"log2",{size:9.5});
T(gC,73,891.5,"Piwi_IP",{size:9,anchor:"middle"});
gC.append("line").attr("x1",39).attr("x2",108).attr("y1",894.5).attr("y2",894.5).attr("stroke","#222").attr("stroke-width",0.8);
T(gC,73,904,"Aub_IP+AGO3_IP",{size:8.8,anchor:"middle"});
T(gC,135,899,"Piwi bias",{size:9.5,anchor:"middle"});
piwiKey(gC,155,891.7,9.05,10,889.5,9.5);
// connectors C -> D
dotted(gC,250,709,418,717,true);
dotted(gC,253,757,418,846,true);

// ===== Panel D =====
const gD = svg.append("g");
T(gD,409,653,"D",{size:15,weight:"bold"});
T(gD,585,637,"position on chr. 2R [Mbp]",{size:10.5,anchor:"middle"});
const x2R = d3.scaleLinear().domain([2140,2390]).range([430.7,717.3]);
topAxis(gD,x2R,652.5,ab42Ticks,d=>(d/1000).toFixed(2),9,null,3);
const y42O = d3.scaleLinear().domain([-410,410]).range([721.8,656.2]);
const y42E = d3.scaleLinear().domain([-410,410]).range([786.8,721.2]);
const line42O = d3.line().x(d=>x2R(d[0])).y(d=>y42O(d[1]));
const line42E = d3.line().x(d=>x2R(d[0])).y(d=>y42E(d[1]));
baseline(gD,x2R,y42O,2140.5,2390,"#111");
gD.append("path").attr("d",line42O(ab42Ovarian)).attr("fill","none").attr("stroke","#111").attr("stroke-width",0.9);
baseline(gD,x2R,y42E,2140.5,2390,RED);
gD.append("path").attr("d",line42E(ab42Embryonic)).attr("fill","none").attr("stroke",RED).attr("stroke-width",0.9);
densityAxis(gD,y42O,721.7,[400,200,0,-200,-400]);
T(gD,739.5,690,"piRNA density",{size:10.5,anchor:"middle",rotate:90});
T(gD,448,668,"42AB cluster",{size:12,weight:"bold",style:"italic"});
T(gD,543,685,"ovarian library",{size:10.5,weight:"bold",style:"italic"});
T(gD,543,749.5,"embryonic library",{size:10.5,weight:"bold",style:"italic",fill:RED});
// flamenco
T(gD,575,795,"position on chr. X [Mbp]",{size:10.5,anchor:"middle"});
const xX = d3.scaleLinear().domain([21550,21678]).range([430,718]);
topAxis(gD,xX,809.5,flamTicks,d=>(d/1000).toFixed(2),9,null,3);
const yFlO = d3.scaleLinear().domain([0,102]).range([882.7,813.6]);
const yFlE = d3.scaleLinear().domain([-10,10]).range([908.5,894.9]);
baseline(gD,xX,yFlO,21550,21678,"#111");
gD.append("path").attr("d",d3.line().x(d=>xX(d[0])).y(d=>yFlO(d[1]))(flamOvarian)).attr("fill","none").attr("stroke","#111").attr("stroke-width",0.9);
baseline(gD,xX,yFlE,21550,21678,RED);
gD.append("path").attr("d",d3.line().x(d=>xX(d[0])).y(d=>yFlE(d[1]))(flamEmbryonic)).attr("fill","none").attr("stroke",RED).attr("stroke-width",0.9);
densityAxis(gD,yFlO,721.7,[0,20,40,60,80,100]);
T(gD,739.5,850,"piRNA density",{size:10.5,anchor:"middle",rotate:90});
T(gD,448,827,"flamenco cluster",{size:12,weight:"bold",style:"italic"});
T(gD,512,879,"ovarian library",{size:10.5,weight:"bold",style:"italic"});
T(gD,512,899,"embryonic library",{size:10.5,weight:"bold",style:"italic",fill:RED});
</script></body></html>
